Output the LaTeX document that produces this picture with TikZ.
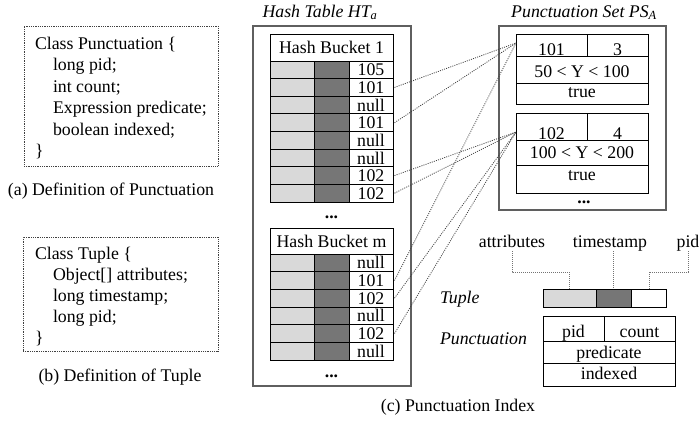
\documentclass[tikz,border=0pt]{standalone}
\usepackage{fontspec}
\setmainfont{Liberation Serif}
\usetikzlibrary{calc}
\definecolor{lightg}{RGB}{217,217,217}
\definecolor{darkg}{RGB}{118,118,118}
\definecolor{frameg}{RGB}{95,95,95}
\begin{document}
\begin{tikzpicture}[x=1pt,y=-1pt,
  every node/.style={font=\fontsize{17.8}{21.5}\selectfont, inner sep=0pt, outer sep=0pt},
  cell/.style={draw=black, line width=1pt, minimum height=17.625pt},
  mcell/.style={draw=black, line width=1pt, minimum height=17.667pt},
  pcell/.style={draw=black, line width=1pt},
  outerbox/.style={draw=frameg, line width=1.5pt},
  defbox/.style={draw=black!75, line width=0.9pt, dash pattern=on 0.9pt off 0.9pt},
  link/.style={draw=black!75, line width=0.8pt, dash pattern=on 1pt off 1.2pt},
  legline/.style={draw=black!55, line width=0.8pt, dash pattern=on 1pt off 1pt},
  ttl/.style={font=\fontsize{17.8}{21.5}\selectfont\itshape},
  dots/.style={font=\fontsize{17.8}{21.5}\selectfont\bfseries}]
\useasboundingbox (0,0) rectangle (699,429);

% ---- (a) definition of Punctuation
\node[defbox, minimum width=194pt, minimum height=140pt] (boxA) at (121,96) {};
\node[anchor=base west] (a1) at (35,49) {Class Punctuation \{};
\node[anchor=base west] (a2) at (53,70.5) {long pid;};
\node[anchor=base west] (a3) at (53,92) {int count;};
\node[anchor=base west] (a4) at (53,113.5) {Expression predicate;};
\node[anchor=base west] (a5) at (53,135) {boolean indexed;};
\node[anchor=base west] (a6) at (35,156.5) {\}};
\node[anchor=base] (capA) at (111,195) {(a) Definition of Punctuation};

% ---- (b) definition of Tuple
\node[defbox, minimum width=195pt, minimum height=114pt] (boxB) at (120.5,294) {};
\node[anchor=base west] (b1) at (35,259) {Class Tuple \{};
\node[anchor=base west] (b2) at (53,280) {Object[] attributes;};
\node[anchor=base west] (b3) at (53,301) {long timestamp;};
\node[anchor=base west] (b4) at (53,322) {long pid;};
\node[anchor=base west] (b5) at (35,343) {\}};
\node[anchor=base] (capB) at (120,381) {(b) Definition of Tuple};

% ---- Hash table
\node[ttl, anchor=base] (htT) at (320,17) {Hash Table HT\textsubscript{a}};
\node[outerbox, minimum width=158pt, minimum height=360pt] (HT) at (332,206) {};
\node[cell, minimum width=123pt, minimum height=27pt] (aH) at (331.5,47.5) {Hash Bucket 1};
\foreach \i/\t in {1/105,2/101,3/null,4/101,5/null,6/null,7/102,8/102} {
  \pgfmathsetmacro\yc{61+(\i-0.5)*17.625}
  \node[cell, fill=lightg, minimum width=44pt] (aL\i) at (292,\yc) {};
  \node[cell, fill=darkg, minimum width=35pt] (aD\i) at (331.5,\yc) {};
  \node[cell, minimum width=44pt] (aW\i) at (371,\yc) {\t};
}
\node[dots] (d1) at (331.5,217) {...};
\node[cell, minimum width=123pt, minimum height=26pt] (mH) at (331.5,241) {Hash Bucket m};
\foreach \i/\t in {1/null,2/101,3/102,4/null,5/102,6/null} {
  \pgfmathsetmacro\yc{254+(\i-0.5)*17.667}
  \node[mcell, fill=lightg, minimum width=44pt] (mL\i) at (292,\yc) {};
  \node[mcell, fill=darkg, minimum width=35pt] (mD\i) at (331.5,\yc) {};
  \node[mcell, minimum width=44pt] (mW\i) at (371,\yc) {\t};
}
\node[dots] (d2) at (331.5,376) {...};

% ---- Punctuation set
\node[ttl, anchor=base] (psT) at (584,17) {Punctuation Set PS\textsubscript{A}};
\node[outerbox, minimum width=167pt, minimum height=184pt] (PS) at (582.5,118) {};
% punctuation 1
\node[pcell, minimum width=71pt, minimum height=22pt] (p1a) at (551.5,45) {};
\node[pcell, minimum width=61pt, minimum height=22pt] (p1b) at (617.5,45) {};
\node[pcell, minimum width=132pt, minimum height=27pt] (p1c) at (582,69.5) {};
\node[pcell, minimum width=132pt, minimum height=21pt] (p1d) at (582,93.5) {};
\node[anchor=base] (t1a) at (551.5,55.5) {101};
\node[anchor=base] (t1b) at (617.5,55.5) {3};
\node[anchor=base] (t1c) at (582,77) {50 < Y < 100};
\node[anchor=base] (t1d) at (582,97.5) {true};
% punctuation 2
\node[pcell, minimum width=71pt, minimum height=27pt] (p2a) at (551.5,126.5) {};
\node[pcell, minimum width=61pt, minimum height=27pt] (p2b) at (617.5,126.5) {};
\node[pcell, minimum width=132pt, minimum height=25pt] (p2c) at (582,152.5) {};
\node[pcell, minimum width=132pt, minimum height=28pt] (p2d) at (582,179) {};
\node[anchor=base] (t2a) at (551.5,139.5) {102};
\node[anchor=base] (t2b) at (617.5,139.5) {4};
\node[anchor=base] (t2c) at (582,158.5) {100 < Y < 200};
\node[anchor=base] (t2d) at (582,180.5) {true};
\node[dots] (d3) at (584,202) {...};

% ---- links
\coordinate (in1) at ($(p1a.north west)+(0,9)$);
\coordinate (in2) at ($(p2a.north west)+(0,19)$);
\foreach \r in {aW2,aW4,mW2} \draw[link] ([xshift=1.5pt]\r.east) -- (in1);
\foreach \r in {aW7,aW8,mW3,mW5} \draw[link] ([xshift=1.5pt]\r.east) -- (in2);

% ---- legend
\node[anchor=base] (lAttr) at (512,247) {attributes};
\node[anchor=base] (lTs) at (610,247) {timestamp};
\node[anchor=base] (lPid) at (688,247) {pid};
\node[ttl, anchor=base west] (lTuple) at (440,303) {Tuple};
\node[ttl, anchor=base west] (lPunct) at (440,344) {Punctuation};
\node[pcell, fill=lightg, minimum width=53pt, minimum height=18pt] (tL) at (569.5,298) {};
\node[pcell, fill=darkg, minimum width=35pt, minimum height=18pt] (tD) at (613.5,298) {};
\node[pcell, minimum width=35pt, minimum height=18pt] (tW) at (648.5,298) {};
\node[pcell, minimum width=61pt, minimum height=25pt] (qa) at (573.5,328.5) {};
\node[pcell, minimum width=71pt, minimum height=25pt] (qb) at (639.5,328.5) {};
\node[pcell, minimum width=132pt, minimum height=22pt] (qc) at (609,352) {};
\node[pcell, minimum width=132pt, minimum height=23pt] (qd) at (609,374.5) {};
\node[anchor=base] (qta) at (573.5,337) {pid};
\node[anchor=base] (qtb) at (639.5,337) {count};
\node[anchor=base] (qtc) at (609,358) {predicate};
\node[anchor=base] (qtd) at (609,379.5) {indexed};
\coordinate (kA) at (569,272);
\coordinate (kP) at (649,272);
\draw[legline] ([yshift=-4pt]lAttr.base) |- (kA) -- (kA |- tL.north);
\draw[legline] ([yshift=-4pt,xshift=3pt]lTs.base) -- ([xshift=3pt]lTs.base |- tD.north);
\draw[legline] ([yshift=-4pt]lPid.base) |- (kP) -- (kP |- tW.north);
\node[anchor=base] (capC) at (458,411) {(c) Punctuation Index};
\end{tikzpicture}
\end{document}
